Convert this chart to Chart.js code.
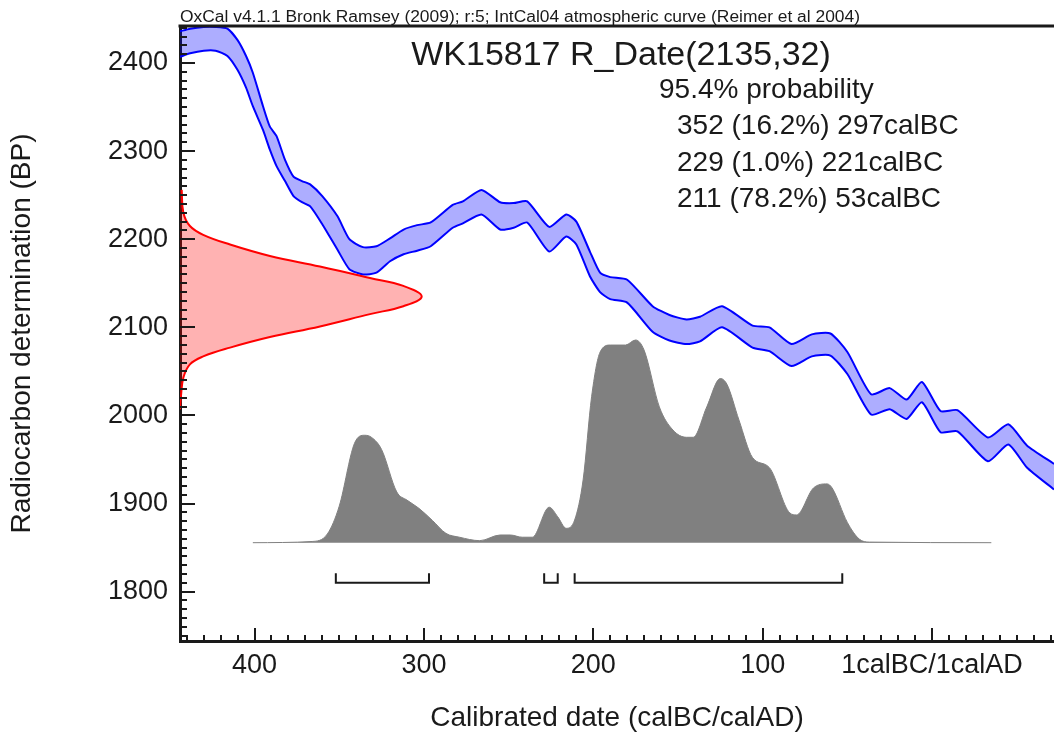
<!DOCTYPE html>
<html lang="en">
<head>
<meta charset="UTF-8">
<title>WK15817 R_Date(2135,32)</title>
<script src="https://cdn.jsdelivr.net/npm/chart.js"></script>
<style>
  body { margin: 0; background: #fff; }
  #wrap { width: 1054px; height: 733px; }
</style>
</head>
<body>
<div id="wrap"><canvas id="oxcal"></canvas></div>
<script>
// IntCal04 curve envelope, x in calBC (negative = calAD), y in BP
const curveYears = [444, 438, 430, 423, 416, 410, 405, 401, 395, 391,
    387, 382, 377, 372, 367, 360, 351, 344, 336, 328,
    320, 312, 304, 296, 283, 277, 266, 255, 247, 239,
    226, 216, 210, 202, 196, 190, 180, 165, 155, 145,
    137, 124, 106, 96, 83, 71, 60, 50, 36, 25,
    15, 6, -5, -15, -33, -45, -56, -72];
const curveUpper = [2436, 2439, 2441, 2441, 2439, 2426, 2408, 2389, 2351, 2328,
    2317, 2290, 2271, 2266, 2262, 2249, 2226, 2200, 2191, 2192,
    2201, 2211, 2216, 2219, 2239, 2243, 2256, 2242, 2241, 2243,
    2214, 2228, 2220, 2186, 2162, 2157, 2154, 2124, 2114, 2109,
    2112, 2124, 2102, 2100, 2081, 2092, 2093, 2072, 2024, 2031,
    2018, 2038, 2005, 2006, 1975, 1990, 1966, 1945];
const curveLower = [2407, 2411, 2414, 2414, 2408, 2392, 2372, 2351, 2324, 2302,
    2283, 2266, 2249, 2242, 2237, 2217, 2188, 2166, 2160, 2162,
    2175, 2183, 2187, 2192, 2213, 2218, 2228, 2211, 2213, 2219,
    2186, 2203, 2194, 2158, 2140, 2132, 2128, 2095, 2085, 2081,
    2084, 2100, 2077, 2073, 2056, 2067, 2068, 2047, 2001, 2007,
    1996, 2015, 1981, 1982, 1948, 1967, 1941, 1916];

// the measurement R_Date(2135,32), relative likelihood against BP
const dateBP = [2007, 2022, 2043, 2058, 2067, 2077, 2089, 2101, 2115, 2124,
    2135, 2147, 2156, 2169, 2181, 2194, 2205, 2215, 2230, 2256];
const dateProb = [0, 0.004, 0.014, 0.041, 0.096, 0.207, 0.372, 0.579, 0.786, 0.924,
    1.0, 0.924, 0.786, 0.579, 0.372, 0.207, 0.096, 0.041, 0.014, 0.007];

// calibrated date, relative probability
const calYears = [401, 366, 357, 350, 341, 335, 331, 325, 316, 310,
    303, 295, 287, 279, 267, 255, 249, 242, 236, 226,
    221, 216, 211, 206, 201, 196, 190, 181, 175, 170,
    161, 153, 145, 141, 133, 125, 121, 114, 106, 96,
    84, 80, 70, 62, 59, 50, 43, 37, -35];
const calProb = [0, 0.006, 0.043, 0.18, 0.49, 0.53, 0.52, 0.46, 0.25, 0.21,
    0.17, 0.11, 0.046, 0.027, 0.01, 0.038, 0.038, 0.027, 0.027, 0.175,
    0.128, 0.071, 0.112, 0.31, 0.72, 0.94, 0.975, 0.975, 1.0, 0.95,
    0.67, 0.556, 0.52, 0.52, 0.67, 0.81, 0.78, 0.605, 0.42, 0.37,
    0.147, 0.137, 0.27, 0.29, 0.27, 0.10, 0.018, 0.003, 0];

// 95.4% ranges
const rangeFrom = [352, 229, 211];
const rangeTo = [297, 221, 53];
const rangePct = ['16.2%', '1.0%', '78.2%'];

const xTicks = [400, 300, 200, 100, 0];
const yTicks = [1800, 1900, 2000, 2100, 2200, 2300, 2400];

const caption = 'OxCal v4.1.1 Bronk Ramsey (2009); r:5; IntCal04 atmospheric curve (Reimer et al 2004)';
const heading = 'WK15817 R_Date(2135,32)';

const FONT = '"Liberation Sans", Arial, sans-serif';
const INK = '#1a1a1a';

// brackets under the distribution, with a gap between each
const bracketPts = [];
rangeFrom.forEach((f, i) => {
    const t = rangeTo[i];
    bracketPts.push({x: f, y: 1821}, {x: f, y: 1810}, {x: t, y: 1810}, {x: t, y: 1821}, {x: t, y: null});
});

// inward tick marks, frame top and the text block
const oxcalDecor = {
    id: 'oxcalDecor',
    afterDraw(chart) {
        const {ctx, chartArea: a, scales: {x, y}} = chart;
        ctx.save();
        ctx.strokeStyle = INK;
        ctx.lineWidth = 3;
        ctx.beginPath();
        ctx.moveTo(a.left - 1.5, a.top);
        ctx.lineTo(a.right, a.top);
        ctx.stroke();

        ctx.lineWidth = 2;
        for (let v = -70; v <= 440; v += 10) {
            const px = Math.round(x.getPixelForValue(v));
            const len = v % 100 === 0 ? 13 : 6;
            ctx.beginPath();
            ctx.moveTo(px, a.bottom);
            ctx.lineTo(px, a.bottom - len);
            ctx.stroke();
        }
        for (let v = 1750; v <= 2440; v += 10) {
            const py = Math.round(y.getPixelForValue(v));
            const len = v % 100 === 0 ? 15 : 7;
            ctx.beginPath();
            ctx.moveTo(a.left, py);
            ctx.lineTo(a.left + len, py);
            ctx.stroke();
        }

        ctx.fillStyle = INK;
        ctx.textBaseline = 'alphabetic';
        ctx.textAlign = 'left';
        // the caption is drawn a little wide, as in the OxCal output
        ctx.font = '16px ' + FONT;
        const stretch = 680 / ctx.measureText(caption).width;
        ctx.save();
        ctx.translate(a.left, 22);
        ctx.scale(stretch, 1);
        ctx.fillText(caption, 0, 0);
        ctx.restore();

        ctx.textAlign = 'center';
        ctx.font = '34px ' + FONT;
        ctx.fillText(heading, 621, 65);

        ctx.textAlign = 'left';
        ctx.font = '28px ' + FONT;
        ctx.fillText('95.4% probability', 659, 98);
        rangeFrom.forEach((f, i) => {
            ctx.fillText(`${f} (${rangePct[i]}) ${rangeTo[i]}calBC`, 677, 134 + i * 36.5);
        });
        ctx.restore();
    }
};

new Chart(document.getElementById('oxcal'), {
    type: 'line',
    data: {
        datasets: [
            {
                label: 'R_Date',
                data: dateBP.map((bp, i) => ({x: dateProb[i], y: bp})),
                indexAxis: 'y',
                xAxisID: 'xp',
                yAxisID: 'y',
                borderColor: '#ff0000',
                borderWidth: 2,
                backgroundColor: 'rgba(255, 0, 0, 0.3)',
                fill: 'origin',
                tension: 0.4,
                pointRadius: 0
            },
            {
                label: 'ranges',
                data: bracketPts,
                xAxisID: 'x',
                yAxisID: 'y',
                borderColor: INK,
                borderWidth: 2,
                fill: false,
                tension: 0,
                spanGaps: false,
                pointRadius: 0
            },
            {
                label: 'IntCal04 +1sd',
                data: curveYears.map((yr, i) => ({x: yr, y: curveUpper[i]})),
                xAxisID: 'x',
                yAxisID: 'y',
                borderColor: '#0000ff',
                borderWidth: 2,
                fill: false,
                tension: 0.2,
                pointRadius: 0
            },
            {
                label: 'IntCal04 -1sd',
                data: curveYears.map((yr, i) => ({x: yr, y: curveLower[i]})),
                xAxisID: 'x',
                yAxisID: 'y',
                borderColor: '#0000ff',
                borderWidth: 2,
                backgroundColor: 'rgba(0, 0, 255, 0.32)',
                fill: '-1',
                tension: 0.2,
                pointRadius: 0
            },
            {
                label: 'calibrated',
                data: calYears.map((yr, i) => ({x: yr, y: calProb[i]})),
                xAxisID: 'x',
                yAxisID: 'yp',
                borderColor: '#808080',
                borderWidth: 1,
                backgroundColor: '#808080',
                fill: 'origin',
                cubicInterpolationMode: 'monotone',
                pointRadius: 0
            }
        ]
    },
    options: {
        responsive: true,
        maintainAspectRatio: false,
        animation: false,
        events: [],
        layout: {padding: {top: 26, right: 0, bottom: 0, left: 0}},
        plugins: {
            legend: {display: false},
            tooltip: {enabled: false}
        },
        scales: {
            x: {
                type: 'linear',
                position: 'bottom',
                reverse: true,
                min: -72,
                max: 444,
                afterBuildTicks: (s) => { s.ticks = xTicks.map(v => ({value: v})); },
                afterFit: (s) => { s.height = 92; },
                grid: {display: false},
                border: {display: true, color: INK, width: 3},
                ticks: {
                    color: INK,
                    font: {family: FONT, size: 27},
                    padding: 0,
                    autoSkip: false,
                    maxRotation: 0,
                    minRotation: 0,
                    callback: (v) => v === 0 ? '1calBC/1calAD' : String(v)
                },
                title: {
                    display: true,
                    text: 'Calibrated date (calBC/calAD)',
                    color: INK,
                    font: {family: FONT, size: 28, lineHeight: 1},
                    padding: {top: 0, bottom: 1}
                }
            },
            y: {
                type: 'linear',
                position: 'left',
                min: 1744,
                max: 2442,
                afterBuildTicks: (s) => { s.ticks = yTicks.map(v => ({value: v})); },
                afterFit: (s) => { s.width = 180; },
                grid: {display: false},
                border: {display: true, color: INK, width: 3},
                ticks: {
                    color: INK,
                    font: {family: FONT, size: 27},
                    padding: 4,
                    callback: (v) => String(v)
                },
                title: {
                    display: true,
                    text: 'Radiocarbon determination (BP)',
                    color: INK,
                    font: {family: FONT, size: 28, lineHeight: 1},
                    padding: {top: 8, bottom: 0}
                }
            },
            xp: {
                type: 'linear',
                display: false,
                min: 0,
                max: 3.616
            },
            yp: {
                type: 'linear',
                display: false,
                min: -0.485,
                max: 2.549
            }
        }
    },
    plugins: [oxcalDecor]
});
</script>
</body>
</html>
